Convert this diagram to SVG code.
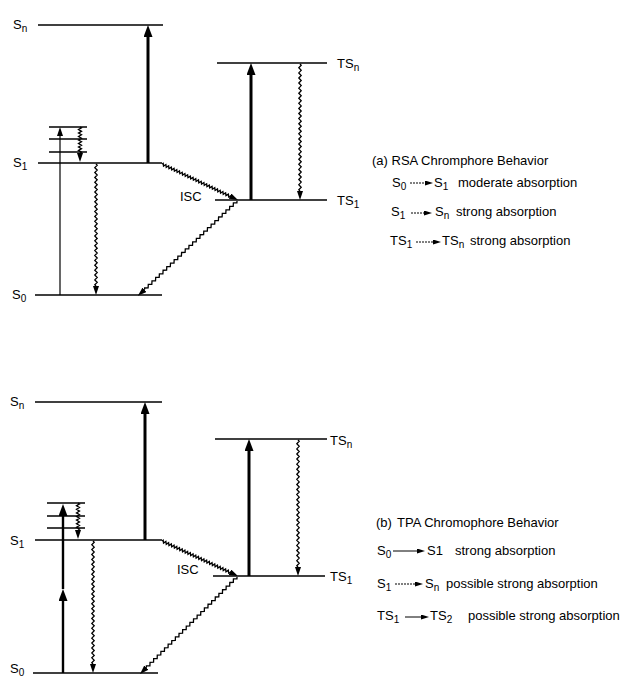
<svg xmlns="http://www.w3.org/2000/svg" xmlns:xlink="http://www.w3.org/1999/xlink" width="625" height="677" viewBox="0 0 625 677">
<style>
text{font-family:"Liberation Sans",Arial,sans-serif;font-size:13px;fill:#000}
.sub{font-size:10px}
.lvl{stroke:#000;stroke-width:1.3;fill:none}
.thin{stroke:#000;stroke-width:1.2;fill:none}
.thick{stroke:#000;stroke-width:3;fill:none}
.mid{stroke:#000;stroke-width:2.4;fill:none}
.wv{stroke:#000;stroke-width:1.3;fill:none;vector-effect:non-scaling-stroke}
.lg{stroke:#000;stroke-width:1;fill:none}
.lgd{stroke:#000;stroke-width:1;fill:none;stroke-dasharray:2 1}
</style>
<defs>
<marker id="ab" viewBox="0 0 12 9" markerWidth="12" markerHeight="9" refX="4" refY="4.5" markerUnits="userSpaceOnUse" orient="auto"><path d="M0,0 L12,4.5 L0,9 z" fill="#000"/></marker>
<marker id="as" viewBox="0 0 9 6" markerWidth="9" markerHeight="6" refX="3" refY="3" markerUnits="userSpaceOnUse" orient="auto"><path d="M0,0 L9,3 L0,6 z" fill="#000"/></marker>
<marker id="al" viewBox="0 0 8 5" markerWidth="8" markerHeight="5" refX="2" refY="2.5" markerUnits="userSpaceOnUse" orient="auto"><path d="M0,0 L8,2.5 L0,5 z" fill="#000"/></marker>
<path id="zz" class="wv" d="M0,0 l1.2,1 -2.4,2 2.4,2 -2.4,2 2.4,2 -2.4,2 2.4,2 -2.4,2 2.4,2 -2.4,2 2.4,2 -2.4,2 2.4,2 -2.4,2 2.4,2 -2.4,2 2.4,2 -2.4,2 2.4,2 -2.4,2 2.4,2 -2.4,2 2.4,2 -2.4,2 2.4,2 -2.4,2 2.4,2 -2.4,2 2.4,2 -2.4,2 2.4,2 -2.4,2 2.4,2 -2.4,2 2.4,2 -2.4,2 2.4,2 -2.4,2 2.4,2 -2.4,2 2.4,2 -2.4,2 2.4,2 -2.4,2 2.4,2 -2.4,2 2.4,2 -2.4,2 2.4,2 -2.4,2 1.2,1"/>
<path id="zs" class="wv" d="M0,0 l1.5,1 -3,2 3,2 -3,2 3,2 -3,2 3,2 -3,2 3,2 -3,2 3,2 -3,2 3,2 -3,2 3,2 -1.5,1"/>
</defs>

<!-- (a) RSA diagram -->
<g id="a-Sn"><line class="lvl" x1="38" y1="25" x2="163" y2="25"/><text x="13" y="29">S<tspan class="sub" dy="3">n</tspan></text></g>
<g id="a-S1"><line class="lvl" x1="38" y1="163" x2="162" y2="163"/><text x="13" y="167">S<tspan class="sub" dy="3">1</tspan></text></g>
<g id="a-S0"><line class="lvl" x1="35" y1="295" x2="162" y2="295"/><text x="12" y="299">S<tspan class="sub" dy="3">0</tspan></text></g>
<g id="a-vib"><line class="lvl" x1="49" y1="127" x2="87" y2="127"/><line class="lvl" x1="49" y1="139" x2="87" y2="139"/><line class="lvl" x1="49" y1="152" x2="87" y2="152"/></g>
<g id="a-TSn"><line class="lvl" x1="217" y1="63" x2="327" y2="63"/><text x="337" y="68">TS<tspan class="sub" dy="3">n</tspan></text></g>
<g id="a-TS1"><line class="lvl" x1="215" y1="200" x2="327" y2="200"/><text x="337" y="205">TS<tspan class="sub" dy="3">1</tspan></text></g>
<g id="a-ISC"><text x="180" y="201">ISC</text></g>

<!-- (b) TPA diagram -->
<g id="b-Sn"><line class="lvl" x1="35" y1="402" x2="162" y2="402"/><text x="10" y="406">S<tspan class="sub" dy="3">n</tspan></text></g>
<g id="b-S1"><line class="lvl" x1="35" y1="540" x2="162" y2="540"/><text x="10" y="545">S<tspan class="sub" dy="3">1</tspan></text></g>
<g id="b-S0"><line class="lvl" x1="33" y1="673" x2="158" y2="673"/><text x="10" y="673">S<tspan class="sub" dy="2.5">0</tspan></text></g>
<g id="b-vib"><line class="lvl" x1="47" y1="503" x2="85" y2="503"/><line class="lvl" x1="47" y1="516" x2="85" y2="516"/><line class="lvl" x1="47" y1="528" x2="85" y2="528"/></g>
<g id="b-TSn"><line class="lvl" x1="215" y1="439" x2="327" y2="439"/><text x="330" y="445">TS<tspan class="sub" dy="3">n</tspan></text></g>
<g id="b-TS1"><line class="lvl" x1="213" y1="576" x2="325" y2="576"/><text x="330" y="581">TS<tspan class="sub" dy="3">1</tspan></text></g>
<g id="b-ISC"><text x="177" y="574">ISC</text></g>

<g id="connectors">
<!-- (a) -->
<line class="thin" x1="60" y1="295" x2="60" y2="133" marker-end="url(#as)"/>
<line class="thick" x1="148" y1="163" x2="148" y2="33" marker-end="url(#ab)"/>
<line class="thick" x1="251" y1="200" x2="251" y2="71" marker-end="url(#ab)"/>
<use href="#zs" transform="translate(80,127) scale(1,0.867)"/>
<line class="thin" x1="80" y1="153" x2="80" y2="156" marker-end="url(#as)"/>
<use href="#zz" transform="translate(96,164) scale(1,1.22)"/>
<line class="thin" x1="96" y1="286" x2="96" y2="289" marker-end="url(#as)"/>
<use href="#zz" transform="translate(162,164) rotate(-64.65) scale(1,0.751)"/>
<line class="thin" x1="229.9" y1="196.1" x2="232.6" y2="197.4" marker-end="url(#as)"/>
<use href="#zz" transform="translate(237,201) rotate(46.18) scale(1,1.282)"/>
<line class="thin" x1="144.5" y1="289.8" x2="142.3" y2="291.8" marker-end="url(#as)"/>
<use href="#zz" transform="translate(300,64) scale(1,1.27)"/>
<line class="thin" x1="300" y1="191" x2="300" y2="194" marker-end="url(#as)"/>
<!-- (b) -->
<line class="mid" x1="63" y1="673" x2="63" y2="597" marker-end="url(#ab)"/>
<line class="mid" x1="63" y1="589" x2="63" y2="512" marker-end="url(#ab)"/>
<line class="thick" x1="145" y1="540" x2="145" y2="410" marker-end="url(#ab)"/>
<line class="thick" x1="249" y1="576" x2="249" y2="447" marker-end="url(#ab)"/>
<use href="#zs" transform="translate(78,503) scale(1,0.9)"/>
<line class="thin" x1="78" y1="530" x2="78" y2="533" marker-end="url(#as)"/>
<use href="#zz" transform="translate(93,541) scale(1,1.23)"/>
<line class="thin" x1="93" y1="664" x2="93" y2="667" marker-end="url(#as)"/>
<use href="#zz" transform="translate(162,541) rotate(-65.27) scale(1,0.747)"/>
<line class="thin" x1="229.8" y1="572.2" x2="232.55" y2="573.5" marker-end="url(#as)"/>
<use href="#zz" transform="translate(237,577) rotate(45) scale(1,1.282)"/>
<line class="thin" x1="146.35" y1="667.65" x2="144.24" y2="669.76" marker-end="url(#as)"/>
<use href="#zz" transform="translate(298,440) scale(1,1.27)"/>
<line class="thin" x1="298" y1="567" x2="298" y2="570" marker-end="url(#as)"/>
</g>

<g id="legend-a">
<text x="372" y="165">(a) RSA Chromphore Behavior</text>
<text x="392" y="187">S<tspan class="sub" dy="3">0</tspan></text>
<line class="lgd" x1="410" y1="183" x2="427" y2="183" marker-end="url(#al)"/>
<text x="434" y="187">S<tspan class="sub" dy="3">1</tspan></text>
<text x="458" y="187">moderate absorption</text>
<text x="391" y="216">S<tspan class="sub" dy="3">1</tspan></text>
<line class="lgd" x1="411" y1="213" x2="426" y2="213" marker-end="url(#al)"/>
<text x="435" y="216">S<tspan class="sub" dy="3">n</tspan></text>
<text x="456" y="216">strong absorption</text>
<text x="390" y="245">TS<tspan class="sub" dy="3">1</tspan></text>
<line class="lgd" x1="416" y1="242" x2="435" y2="242" marker-end="url(#al)"/>
<text x="442" y="245">TS<tspan class="sub" dy="3">n</tspan></text>
<text x="470" y="245">strong absorption</text>
</g>

<g id="legend-b">
<text x="376" y="527">(b)</text>
<text x="397" y="527">TPA Chromophore Behavior</text>
<text x="377" y="555">S<tspan class="sub" dy="3">0</tspan></text>
<line class="lg" x1="393" y1="551" x2="419" y2="551" marker-end="url(#al)"/>
<text x="427" y="555">S1</text>
<text x="455" y="555">strong absorption</text>
<text x="377" y="588">S<tspan class="sub" dy="3">1</tspan></text>
<line class="lgd" x1="395" y1="584" x2="417" y2="584" marker-end="url(#al)"/>
<text x="425" y="588">S<tspan class="sub" dy="3">n</tspan></text>
<text x="446" y="588">possible strong absorption</text>
<text x="377" y="620">TS<tspan class="sub" dy="3">1</tspan></text>
<line class="lg" x1="405" y1="617" x2="423" y2="617" marker-end="url(#al)"/>
<text x="430" y="620">TS<tspan class="sub" dy="3">2</tspan></text>
<text x="468" y="620">possible strong absorption</text>
</g>
</svg>
